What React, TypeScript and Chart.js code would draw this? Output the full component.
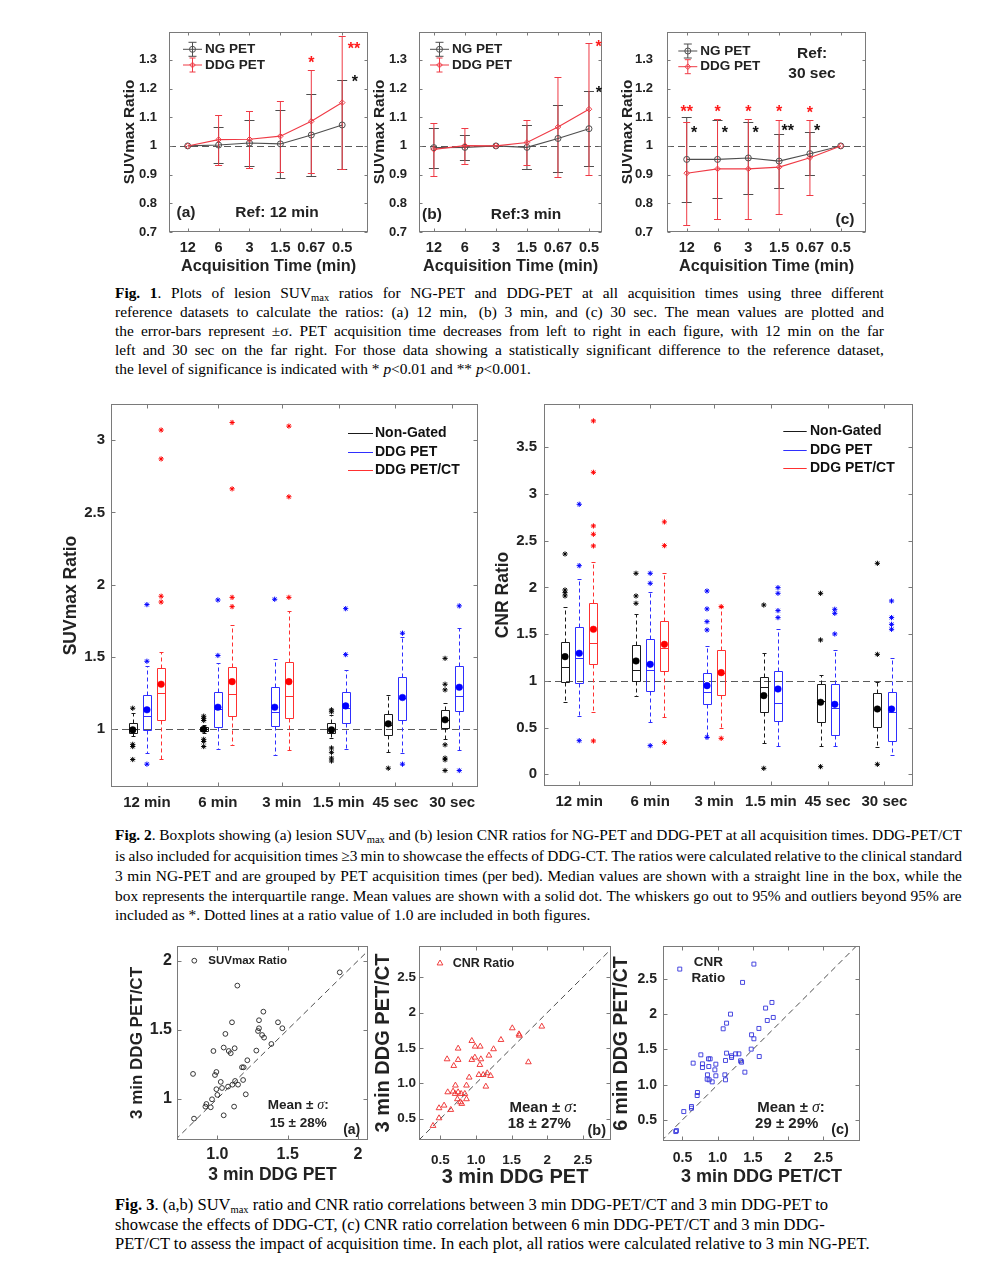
import React, { useEffect, useLayoutEffect, useRef } from 'react';
import { Chart, registerables } from 'chart.js';

Chart.register(...registerables);

const SANS = '"Liberation Sans", Arial, Helvetica, sans-serif';
const SERIF = '"Liberation Serif", "Times New Roman", Times, serif';
const INK = '#222222';
const FRAME = '#7a7a7a';
const NG_GRAY = '#4e4e4e';
const DDG_RED = '#ef3a45';

type Star = [number, number, string];
type TextItem = [string, number, number, number, CanvasTextAlign?];

/* ---------------- Figure 1: mean ± SD of lesion SUVmax ratios ---------------- */
const fig1TimeLabels = ['12', '6', '3', '1.5', '0.67', '0.5'];
const fig1TimeIdx = [0, 1, 2, 3, 4, 5];
const fig1YTicks = [0.7, 0.8, 0.9, 1, 1.1, 1.2, 1.3];

const ref12NgMean = [1.0, 1.003, 1.01, 1.007, 1.038, 1.073];
const ref12NgSd = [0, 0.062, 0.081, 0.118, 0.142, 0.155];
const ref12DdgMean = [1.0, 1.022, 1.023, 1.034, 1.086, 1.151];
const ref12DdgSd = [0, 0.087, 0.1, 0.124, 0.18, 0.232];
const ref12RedStars: Star[] = [[4, 1.302, '*'], [5.38, 1.351, '**']];
const ref12BlackStars: Star[] = [[5.41, 1.237, '*']];

const ref3NgMean = [0.994, 0.995, 1.0, 0.995, 1.026, 1.06];
const ref3NgSd = [0.07, 0.044, 0, 0.077, 0.117, 0.13];
const ref3DdgMean = [0.988, 1.001, 1.0, 1.012, 1.066, 1.128];
const ref3DdgSd = [0.093, 0.063, 0, 0.08, 0.175, 0.23];
const ref3RedStars: Star[] = [[5.31, 1.358, '*']];
const ref3BlackStars: Star[] = [[5.32, 1.199, '*']];

const ref30NgMean = [0.953, 0.953, 0.958, 0.947, 0.973, 1.0];
const ref30NgSd = [0.149, 0.136, 0.127, 0.095, 0.075, 0];
const ref30DdgMean = [0.905, 0.92, 0.92, 0.926, 0.959, 1.0];
const ref30DdgSd = [0.18, 0.173, 0.173, 0.165, 0.13, 0];
const ref30RedStars: Star[] = [[0, 1.133, '**'], [1, 1.133, '*'], [2, 1.133, '*'], [3, 1.133, '*'], [4, 1.127, '*']];
const ref30BlackStars: Star[] = [[0.24, 1.058, '*'], [1.24, 1.058, '*'], [2.24, 1.058, '*'], [3.28, 1.065, '**'], [4.23, 1.065, '*']];

/* ---------------- Figure 2: boxplots ---------------- */
const fig2Groups = ['12 min', '6 min', '3 min', '1.5 min', '45 sec', '30 sec'];
const groupTickPos = [1, 6, 10.5, 14.5, 18.5, 22.5];
const boxPosNg = [0, 5, null, 14, 18, 22];
const boxPosDdg = [1, 6, 10, 15, 19, 23];
const boxPosCt = [2, 7, 11, null, null, null];
const fig2aYTicks = [1, 1.5, 2, 2.5, 3];
const fig2bYTicks = [0, 0.5, 1, 1.5, 2, 2.5, 3, 3.5];

// [lower whisker, Q1, median, Q3, upper whisker, mean]
const suvNgStats = [
  [0.95, 0.977, 1.0, 1.046, 1.11, 0.995],
  [0.975, 0.99, 1.0, 1.012, 1.03, 1.0],
  null,
  [0.94, 0.977, 1.0, 1.041, 1.1, 0.995],
  [0.839, 0.961, 1.03, 1.104, 1.237, 1.037],
  [0.93, 1.007, 1.065, 1.134, 1.18, 1.065],
];
const suvNgOut = [[1.145, 0.895, 0.88, 0.79], [1.09, 1.075, 1.06, 0.93, 0.915, 0.88], [], [1.134, 1.12, 0.87, 0.84, 0.8, 0.78], [0.73], [1.49, 1.311, 1.272, 0.892, 0.8, 0.788, 0.714]];
const suvDdgStats = [
  [0.834, 0.995, 1.092, 1.235, 1.44, 1.134],
  [0.862, 1.012, 1.138, 1.26, 1.456, 1.152],
  [0.823, 1.023, 1.122, 1.29, 1.484, 1.152],
  [0.862, 1.046, 1.145, 1.26, 1.41, 1.161],
  [0.834, 1.065, 1.219, 1.359, 1.64, 1.219],
  [0.857, 1.127, 1.23, 1.44, 1.703, 1.29],
];
const suvDdgOut = [[1.47, 1.862, 0.758], [1.51, 1.894], [1.899], [1.516, 1.834], [1.664, 0.758], [1.853, 0.714]];
const suvCtStats = [
  [0.793, 1.065, 1.249, 1.426, 1.532, 1.311],
  [0.892, 1.094, 1.244, 1.433, 1.719, 1.329],
  [0.857, 1.078, 1.23, 1.468, 1.818, 1.329],
  null,
  null,
  null,
];
const suvCtOut = [[1.88, 1.92, 2.87, 3.07], [1.848, 1.912, 2.663, 3.122], [1.912, 2.608, 3.097], [], [], []];

const cnrNgStats = [
  [0.771, 0.992, 1.152, 1.413, 1.795, 1.259],
  [0.842, 0.999, 1.117, 1.384, 1.712, 1.213],
  null,
  [0.332, 0.671, 0.93, 1.038, 1.295, 0.842],
  [0.303, 0.564, 0.78, 0.967, 1.063, 0.771],
  [0.296, 0.503, 0.7, 0.867, 0.992, 0.699],
];
const cnrNgOut = [[1.973, 1.944, 1.909, 2.358], [1.83, 1.909, 2.151], [], [1.812, 0.064], [1.438, 1.937, 0.082], [1.284, 2.258, 0.107]];
const cnrDdgStats = [
  [0.624, 0.974, 1.249, 1.58, 2.087, 1.295],
  [0.557, 0.895, 1.12, 1.448, 1.948, 1.177],
  [0.396, 0.749, 0.878, 1.081, 1.374, 0.949],
  [0.303, 0.574, 0.76, 1.11, 1.556, 0.913],
  [0.303, 0.421, 0.706, 0.963, 1.331, 0.749],
  [0.207, 0.36, 0.671, 0.885, 1.249, 0.699],
];
const cnrDdgOut = [[2.233, 2.89, 0.36], [2.044, 2.151, 0.307], [1.545, 1.634, 1.77, 1.962, 0.396], [1.677, 1.752, 1.937, 1.998], [1.502, 1.723, 1.766], [1.552, 1.605, 1.677, 1.855]];
const cnrCtStats = [
  [0.671, 1.177, 1.402, 1.83, 2.269, 1.552],
  [0.617, 1.106, 1.356, 1.645, 2.158, 1.391],
  [0.492, 0.849, 1.081, 1.331, 1.795, 1.088],
  null,
  null,
  null,
];
const cnrCtOut = [[2.444, 2.569, 2.658, 3.232, 3.782, 0.357], [2.447, 2.701, 0.342], [1.795, 0.385], [], [], []];

/* ---------------- Figure 3: correlations ---------------- */
const suvCorrX = [1.87, 1.142, 1.327, 1.104, 1.296, 1.431, 1.057, 1.296, 1.462, 1.289, 1.318, 1.332, 1.384, 1.045, 1.123, 0.972, 1.081, 1.095, 1.277, 1.213, 1.175, 1.187, 0.827, 0.993, 0.983, 1.183, 1.024, 1.126, 1.147, 1.107, 1.076, 1.033, 0.993, 1.0, 1.202, 0.962, 0.922, 0.915, 0.953, 1.119, 1.045, 0.834];
const suvCorrY = [1.915, 1.819, 1.63, 1.553, 1.568, 1.553, 1.469, 1.51, 1.51, 1.49, 1.461, 1.442, 1.396, 1.37, 1.365, 1.345, 1.345, 1.329, 1.348, 1.278, 1.227, 1.227, 1.179, 1.193, 1.171, 1.135, 1.121, 1.128, 1.101, 1.101, 1.087, 1.077, 1.068, 1.027, 1.031, 0.995, 0.961, 0.942, 0.937, 0.942, 0.879, 0.855];
const cnrCorrX = [1.509, 1.603, 1.608, 1.923, 1.35, 0.941, 0.988, 1.059, 0.749, 1.246, 0.984, 1.068, 1.181, 1.054, 0.594, 0.749, 0.941, 0.688, 1.04, 1.101, 1.157, 1.204, 0.904, 0.866, 1.138, 0.711, 0.603, 0.707, 0.749, 0.791, 0.843, 0.739, 0.782, 0.866, 0.8, 1.735, 0.552, 0.481, 0.646, 0.481, 0.397, 0.678];
const cnrCorrY = [1.78, 1.695, 1.676, 1.804, 1.615, 1.601, 1.521, 1.521, 1.493, 1.484, 1.366, 1.342, 1.394, 1.262, 1.342, 1.333, 1.333, 1.248, 1.121, 1.121, 1.145, 1.107, 1.084, 0.971, 0.956, 0.971, 0.876, 0.853, 0.876, 0.853, 0.853, 0.778, 0.735, 0.778, 0.712, 1.3, 0.688, 0.651, 0.627, 0.509, 0.401, 0.886];
const cnr6X = [0.462, 1.514, 1.353, 1.77, 1.68, 1.182, 1.789, 1.704, 1.126, 1.078, 1.585, 1.481, 1.514, 1.476, 1.59, 0.761, 1.126, 1.301, 1.254, 1.197, 1.197, 0.87, 0.893, 1.111, 1.325, 1.339, 0.652, 0.784, 0.974, 0.874, 0.784, 0.96, 1.102, 0.974, 0.855, 0.851, 0.879, 0.922, 1.111, 1.386, 0.713, 0.709, 0.628, 0.628, 0.519, 0.415, 0.405];
const cnr6Y = [2.642, 2.713, 2.453, 2.168, 2.088, 2.002, 1.955, 1.912, 1.874, 1.794, 1.799, 1.709, 1.652, 1.505, 1.4, 1.424, 1.448, 1.438, 1.438, 1.41, 1.386, 1.367, 1.367, 1.344, 1.339, 1.32, 1.306, 1.296, 1.291, 1.258, 1.244, 1.211, 1.14, 1.126, 1.14, 1.078, 1.069, 1.04, 1.069, 1.178, 0.889, 0.846, 0.69, 0.666, 0.618, 0.348, 0.334];
const fig3aTicks = [1, 1.5, 2];
const fig3aXLabels = ['1.0', '1.5', '2'];
const fig3aYLabels = ['1', '1.5', '2'];
const fig3bcTicks = [0.5, 1, 1.5, 2, 2.5];
const fig3bcLabels = ['0.5', '1.0', '1.5', '2', '2.5'];

/* ---------------- Captions ---------------- */
const fig1Caption = [
  '<b>Fig.</b> <b>1</b>. Plots of lesion SUV<sub>max</sub> ratios for NG-PET and DDG-PET at all acquisition times using three different',
  'reference datasets to calculate the ratios: (a) 12 min,&nbsp; (b) 3 min, and (c) 30 sec. The mean values are plotted and',
  'the error-bars represent ±σ. PET acquisition time decreases from left to right in each figure, with 12 min on the far',
  'left and 30 sec on the far right. For those data showing a statistically significant difference to the reference dataset,',
  'the level of significance is indicated with * <i>p</i>&lt;0.01 and ** <i>p</i>&lt;0.001.',
];
const fig2Caption = [
  '<b>Fig.</b> <b>2</b>. Boxplots showing (a) lesion SUV<sub>max</sub> and (b) lesion CNR ratios for NG-PET and DDG-PET at all acquisition times. DDG-PET/CT',
  'is also included for acquisition times ≥3 min to showcase the effects of DDG-CT. The ratios were calculated relative to the clinical standard',
  '3 min NG-PET and are grouped by PET acquisition times (per bed). Median values are shown with a straight line in the box, while the',
  'box represents the interquartile range. Mean values are shown with a solid dot. The whiskers go out to 95% and outliers beyond 95% are',
  'included as *. Dotted lines at a ratio value of 1.0 are included in both figures.',
];
const fig3Caption = [
  '<b>Fig. 3</b>. (a,b) SUV<sub>max</sub> ratio and CNR ratio correlations between 3 min DDG-PET/CT and 3 min DDG-PET to',
  'showcase the effects of DDG-CT, (c) CNR ratio correlation between 6 min DDG-PET/CT and 3 min DDG-',
  'PET/CT to assess the impact of acquisition time. In each plot, all ratios were calculated relative to 3 min NG-PET.',
];

/* ---------------- Layout helpers ---------------- */
type Geo = {
  x: number; y: number; w: number; h: number;
  yTitleX: number; yTickRight: number; xTickY: number; xTitleY?: number;
  tick: number; yTick?: number; yTitle: number; xTitle?: number;
};
function makeLayout(g: Geo) {
  const t = 30;
  const r = 34;
  const l = Math.round(g.x - g.yTitleX + (g.yTitle * 1.2) / 2);
  const bottom = g.y + g.h;
  const b = Math.round(
    g.xTitleY != null ? g.xTitleY - bottom + ((g.xTitle || 14) * 1.2) / 2 : g.xTickY - bottom + (g.tick * 1.2) / 2 + 3
  );
  return {
    ...g, l, b, t, r,
    left: g.x - l, top: g.y - t, width: g.w + l + r, height: g.h + t + b,
    yTickPad: g.x - g.yTickRight,
    xTickPad: g.xTickY - bottom - (g.tick * 1.2) / 2,
  };
}
type Layout = ReturnType<typeof makeLayout>;

type AxisSpec = { min: number; max: number; ticks: number[]; labels: string[]; title?: string };

function baseOptions(L: Layout, sx: AxisSpec, sy: AxisSpec): any {
  const font = (size: number) => ({ family: SANS, size, weight: 'bold' as const, lineHeight: 1.2 });
  return {
    responsive: false,
    maintainAspectRatio: false,
    animation: false,
    devicePixelRatio: 1,
    events: [],
    layout: { padding: { left: 0, top: L.t, right: L.r, bottom: 0 } },
    plugins: { legend: { display: false }, tooltip: { enabled: false } },
    scales: {
      x: {
        type: 'linear', position: 'bottom', bounds: 'data', min: sx.min, max: sx.max,
        grid: { display: false, drawTicks: false }, border: { display: false },
        afterBuildTicks: (s: any) => { s.ticks = sx.ticks.map((v) => ({ value: v })); },
        afterFit: (s: any) => { s.height = L.b; },
        ticks: {
          autoSkip: false, maxRotation: 0, minRotation: 0, padding: L.xTickPad, color: INK,
          font: font(L.tick), callback: (_v: any, i: number) => sx.labels[i],
        },
        title: { display: !!sx.title, text: sx.title || '', padding: 0, color: INK, font: font(L.xTitle || 14) },
      },
      y: {
        type: 'linear', position: 'left', bounds: 'data', min: sy.min, max: sy.max,
        grid: { display: false, drawTicks: false }, border: { display: false },
        afterBuildTicks: (s: any) => { s.ticks = sy.ticks.map((v) => ({ value: v })); },
        afterFit: (s: any) => { s.width = L.l; },
        ticks: {
          autoSkip: false, padding: L.yTickPad, color: INK,
          font: font(L.yTick || L.tick), callback: (_v: any, i: number) => sy.labels[i],
        },
        title: { display: !!sy.title, text: sy.title || '', padding: 0, color: INK, font: font(L.yTitle) },
      },
    },
  };
}

function framePlugin(xTicks: number[], yTicks: number[], tick = 4): any {
  return {
    id: 'frame',
    afterDatasetsDraw(chart: any) {
      const { ctx, chartArea: a, scales } = chart;
      const l = Math.round(a.left) + 0.5;
      const r = Math.round(a.right) - 0.5;
      const t = Math.round(a.top) + 0.5;
      const b = Math.round(a.bottom) - 0.5;
      ctx.save();
      ctx.strokeStyle = FRAME;
      ctx.lineWidth = 1;
      ctx.setLineDash([]);
      ctx.strokeRect(l, t, r - l, b - t);
      ctx.beginPath();
      xTicks.forEach((v) => {
        const px = Math.round(scales.x.getPixelForValue(v)) + 0.5;
        ctx.moveTo(px, b); ctx.lineTo(px, b - tick);
        ctx.moveTo(px, t); ctx.lineTo(px, t + tick);
      });
      yTicks.forEach((v) => {
        const py = Math.round(scales.y.getPixelForValue(v)) + 0.5;
        ctx.moveTo(l, py); ctx.lineTo(l + tick, py);
        ctx.moveTo(r, py); ctx.lineTo(r - tick, py);
      });
      ctx.stroke();
      ctx.restore();
    },
  };
}

function refLinePlugin(value: number): any {
  return {
    id: 'refline',
    beforeDatasetsDraw(chart: any) {
      const { ctx, chartArea: a, scales } = chart;
      const py = Math.round(scales.y.getPixelForValue(value)) + 0.5;
      ctx.save();
      ctx.strokeStyle = '#5a5a5a';
      ctx.lineWidth = 1.2;
      ctx.setLineDash([7, 4]);
      ctx.beginPath();
      ctx.moveTo(a.left, py);
      ctx.lineTo(a.right, py);
      ctx.stroke();
      ctx.restore();
    },
  };
}

function drawRich(ctx: CanvasRenderingContext2D, s: string, x: number, y: number, size: number, align: CanvasTextAlign, color = INK) {
  const parts: [string, string][] = [];
  s.split(/(σ)/).forEach((p) => {
    if (!p) return;
    parts.push([p, p === 'σ' ? `italic ${size * 1.05}px ${SERIF}` : `bold ${size}px ${SANS}`]);
  });
  let total = 0;
  parts.forEach(([t, f]) => { ctx.font = f; total += ctx.measureText(t).width; });
  let cx = align === 'center' ? x - total / 2 : align === 'right' ? x - total : x;
  ctx.fillStyle = color;
  ctx.textAlign = 'left';
  ctx.textBaseline = 'middle';
  parts.forEach(([t, f]) => { ctx.font = f; ctx.fillText(t, cx, y); cx += ctx.measureText(t).width; });
}

function textPlugin(L: Layout, items: TextItem[], extra?: (ctx: CanvasRenderingContext2D) => void): any {
  return {
    id: 'texts',
    afterDraw(chart: any) {
      const ctx = chart.ctx as CanvasRenderingContext2D;
      ctx.save();
      items.forEach(([s, x, y, size, align]) => drawRich(ctx, s, x - L.left, y - L.top, size, align || 'center'));
      if (extra) extra(ctx);
      ctx.restore();
    },
  };
}

/* ---------------- Figure 1 ---------------- */
type Fig1Panel = {
  geo: Geo; xMin: number; xMax: number;
  ngMean: number[]; ngSd: number[]; ddgMean: number[]; ddgSd: number[];
  redStars: Star[]; blackStars: Star[]; texts: TextItem[];
  legendX: number; legendY: [number, number];
};

const F1_TICK = 14.5;
const F1_YTICK = 13;
const F1_XT = 16.3;
const F1_YT = 15.3;

const fig1Panels: Fig1Panel[] = [
  {
    geo: { x: 169, y: 32, w: 199, h: 200, yTitleX: 130, yTickRight: 157, xTickY: 248, xTitleY: 266, tick: F1_TICK, yTick: F1_YTICK, yTitle: F1_YT, xTitle: F1_XT },
    xMin: -0.605, xMax: 5.835,
    ngMean: ref12NgMean, ngSd: ref12NgSd, ddgMean: ref12DdgMean, ddgSd: ref12DdgSd,
    redStars: ref12RedStars, blackStars: ref12BlackStars,
    texts: [['(a)', 186, 213, 15.5], ['Ref: 12 min', 277, 213, 15.5]],
    legendX: 183, legendY: [49.3, 65],
  },
  {
    geo: { x: 419, y: 32, w: 183, h: 200, yTitleX: 380, yTickRight: 407, xTickY: 248, xTitleY: 266, tick: F1_TICK, yTick: F1_YTICK, yTitle: F1_YT, xTitle: F1_XT },
    xMin: -0.48, xMax: 5.42,
    ngMean: ref3NgMean, ngSd: ref3NgSd, ddgMean: ref3DdgMean, ddgSd: ref3DdgSd,
    redStars: ref3RedStars, blackStars: ref3BlackStars,
    texts: [['(b)', 432, 215, 15.5], ['Ref:3 min', 526, 215, 15.5]],
    legendX: 430, legendY: [49.3, 65],
  },
  {
    geo: { x: 667, y: 32, w: 199, h: 200, yTitleX: 628, yTickRight: 653, xTickY: 248, xTitleY: 266, tick: F1_TICK, yTick: F1_YTICK, yTitle: F1_YT, xTitle: F1_XT },
    xMin: -0.64, xMax: 5.82,
    ngMean: ref30NgMean, ngSd: ref30NgSd, ddgMean: ref30DdgMean, ddgSd: ref30DdgSd,
    redStars: ref30RedStars, blackStars: ref30BlackStars,
    texts: [['(c)', 845, 220, 15.5], ['Ref:', 812, 53.3, 15.5], ['30 sec', 812, 73.3, 15.5]],
    legendX: 678.3, legendY: [51, 66.7],
  },
];

function drawDiamond(ctx: CanvasRenderingContext2D, x: number, y: number, r: number) {
  ctx.beginPath();
  ctx.moveTo(x, y - r); ctx.lineTo(x + r, y); ctx.lineTo(x, y + r); ctx.lineTo(x - r, y); ctx.closePath();
  ctx.stroke();
}
function drawCircle(ctx: CanvasRenderingContext2D, x: number, y: number, r: number) {
  ctx.beginPath();
  ctx.arc(x, y, r, 0, Math.PI * 2);
  ctx.stroke();
}

function fig1Config(p: Fig1Panel, L: Layout): any {
  const pts = (m: number[]) => m.map((v, i) => ({ x: fig1TimeIdx[i], y: v }));
  const bars = [
    { mean: p.ngMean, sd: p.ngSd, color: NG_GRAY, cap: 5 },
    { mean: p.ddgMean, sd: p.ddgSd, color: DDG_RED, cap: 3.5 },
  ];
  const errPlugin = {
    id: 'errbars',
    beforeDatasetsDraw(chart: any) {
      const { ctx, scales } = chart;
      ctx.save();
      ctx.lineWidth = 1;
      ctx.setLineDash([]);
      bars.forEach((s) => {
        ctx.strokeStyle = s.color;
        ctx.beginPath();
        s.mean.forEach((m, i) => {
          if (!s.sd[i]) return;
          const px = scales.x.getPixelForValue(fig1TimeIdx[i]);
          const top = Math.round(scales.y.getPixelForValue(m + s.sd[i])) + 0.5;
          const bot = Math.round(scales.y.getPixelForValue(m - s.sd[i])) + 0.5;
          ctx.moveTo(px, top); ctx.lineTo(px, bot);
          ctx.moveTo(px - s.cap, top); ctx.lineTo(px + s.cap, top);
          ctx.moveTo(px - s.cap, bot); ctx.lineTo(px + s.cap, bot);
        });
        ctx.stroke();
      });
      ctx.restore();
    },
  };
  const starPlugin = {
    id: 'stars',
    afterDatasetsDraw(chart: any) {
      const { ctx, scales } = chart;
      ctx.save();
      const size = 16;
      ctx.font = `bold ${size}px ${SANS}`;
      ctx.textAlign = 'center';
      ctx.textBaseline = 'alphabetic';
      const draw = (list: Star[], color: string) => {
        ctx.fillStyle = color;
        list.forEach(([xi, yv, s]) => {
          ctx.fillText(s, scales.x.getPixelForValue(xi), scales.y.getPixelForValue(yv) + size * 0.56);
        });
      };
      draw(p.redStars, '#ff1a1a');
      draw(p.blackStars, '#111111');
      ctx.restore();
    },
  };
  const legend = (ctx: CanvasRenderingContext2D) => {
    const items: [number, string, string, number][] = [
      [p.legendY[0], NG_GRAY, 'NG PET', 4],
      [p.legendY[1], DDG_RED, 'DDG PET', 3],
    ];
    items.forEach(([yy, color, label, cap], k) => {
      const x0 = p.legendX - L.left;
      const y = yy - L.top;
      const cx = x0 + 9.5;
      ctx.strokeStyle = color;
      ctx.lineWidth = 1;
      ctx.setLineDash([]);
      ctx.beginPath();
      ctx.moveTo(x0, y); ctx.lineTo(x0 + 19, y);
      ctx.moveTo(cx, y - 7); ctx.lineTo(cx, y + 7);
      ctx.moveTo(cx - cap, y - 7); ctx.lineTo(cx + cap, y - 7);
      ctx.moveTo(cx - cap, y + 7); ctx.lineTo(cx + cap, y + 7);
      ctx.stroke();
      if (k === 0) drawCircle(ctx, cx, y, 3); else drawDiamond(ctx, cx, y, 2.8);
      ctx.font = `bold 13.5px ${SANS}`;
      ctx.fillStyle = INK;
      ctx.textAlign = 'left';
      ctx.textBaseline = 'middle';
      ctx.fillText(label, x0 + 22, y);
    });
  };
  return {
    type: 'line',
    data: {
      datasets: [
        {
          label: 'DDG PET', data: pts(p.ddgMean), borderColor: DDG_RED, borderWidth: 1.1, tension: 0,
          pointStyle: 'rectRot', pointRadius: 2.8, pointBorderColor: DDG_RED,
          pointBackgroundColor: 'rgba(255,255,255,0)', pointBorderWidth: 1,
        },
        {
          label: 'NG PET', data: pts(p.ngMean), borderColor: NG_GRAY, borderWidth: 1.1, tension: 0,
          pointStyle: 'circle', pointRadius: 3, pointBorderColor: NG_GRAY,
          pointBackgroundColor: 'rgba(255,255,255,0)', pointBorderWidth: 1,
        },
      ],
    },
    options: baseOptions(
      L,
      { min: p.xMin, max: p.xMax, ticks: fig1TimeIdx, labels: fig1TimeLabels, title: 'Acquisition Time (min)' },
      { min: 0.7, max: 1.397, ticks: fig1YTicks, labels: fig1YTicks.map(String), title: 'SUVmax Ratio' }
    ),
    plugins: [refLinePlugin(1), errPlugin, framePlugin(fig1TimeIdx, fig1YTicks, 3), starPlugin, textPlugin(L, p.texts, legend)],
  };
}

/* ---------------- Figure 2 ---------------- */
type BoxSeries = { name: string; pos: (number | null)[]; stats: (number[] | null)[]; out: number[][]; line: string; dot: string };
type Fig2Panel = {
  geo: Geo; xr: [number, number]; yr: [number, number]; yTicks: number[]; yTitle: string;
  series: BoxSeries[]; legend: { x0: number; x1: number; tx: number; ys: number[] };
};

const fig2Panels: Fig2Panel[] = [
  {
    geo: { x: 111, y: 404, w: 367, h: 383, yTitleX: 72, yTickRight: 105, xTickY: 803, tick: 15, yTitle: 17.5 },
    xr: [-1.53, 24.32], yr: [0.6, 3.25], yTicks: fig2aYTicks, yTitle: 'SUVmax Ratio',
    series: [
      { name: 'Non-Gated', pos: boxPosNg, stats: suvNgStats, out: suvNgOut, line: '#1a1a1a', dot: '#000000' },
      { name: 'DDG PET', pos: boxPosDdg, stats: suvDdgStats, out: suvDdgOut, line: '#2f2fff', dot: '#0000ff' },
      { name: 'DDG PET/CT', pos: boxPosCt, stats: suvCtStats, out: suvCtOut, line: '#ff3030', dot: '#ff0000' },
    ],
    legend: { x0: 348, x1: 373, tx: 375, ys: [433.3, 452.3, 470] },
  },
  {
    geo: { x: 544, y: 404, w: 369, h: 382, yTitleX: 504, yTickRight: 537, xTickY: 802, tick: 15, yTitle: 17.5 },
    xr: [-1.48, 24.51], yr: [-0.125, 3.963], yTicks: fig2bYTicks, yTitle: 'CNR Ratio',
    series: [
      { name: 'Non-Gated', pos: boxPosNg, stats: cnrNgStats, out: cnrNgOut, line: '#1a1a1a', dot: '#000000' },
      { name: 'DDG PET', pos: boxPosDdg, stats: cnrDdgStats, out: cnrDdgOut, line: '#2f2fff', dot: '#0000ff' },
      { name: 'DDG PET/CT', pos: boxPosCt, stats: cnrCtStats, out: cnrCtOut, line: '#ff3030', dot: '#ff0000' },
    ],
    legend: { x0: 783.3, x1: 806.7, tx: 810, ys: [431, 450, 468.3] },
  },
];

function fig2Config(p: Fig2Panel, L: Layout): any {
  const datasets: any[] = [];
  p.series.forEach((s) => {
    const means: any[] = [];
    const outs: any[] = [];
    s.stats.forEach((st, i) => {
      const pos = s.pos[i];
      if (pos == null) return;
      if (st) means.push({ x: pos, y: st[5] });
      (s.out[i] || []).forEach((v) => outs.push({ x: pos, y: v }));
    });
    datasets.push({
      label: s.name + ' outliers', data: outs, pointStyle: 'star', pointRadius: 2.6,
      borderColor: s.dot, backgroundColor: s.dot, pointBorderColor: s.dot, pointBorderWidth: 1,
    });
    datasets.push({
      label: s.name + ' mean', data: means, pointStyle: 'circle', pointRadius: 3.3,
      borderColor: s.dot, backgroundColor: s.dot, pointBorderColor: s.dot, pointBackgroundColor: s.dot, pointBorderWidth: 0.5,
    });
  });
  const boxPlugin = {
    id: 'boxes',
    beforeDatasetsDraw(chart: any) {
      const { ctx, scales } = chart;
      const Y = (v: number) => Math.round(scales.y.getPixelForValue(v)) + 0.5;
      ctx.save();
      ctx.lineWidth = 1;
      p.series.forEach((s) => {
        ctx.strokeStyle = s.line;
        s.stats.forEach((st, i) => {
          const pos = s.pos[i];
          if (!st || pos == null) return;
          const [lo, q1, med, q3, hi] = st;
          const cx = Math.round(scales.x.getPixelForValue(pos)) + 0.5;
          const hw = 4;
          ctx.setLineDash([]);
          ctx.beginPath();
          ctx.rect(cx - hw, Y(q3), 2 * hw, Y(q1) - Y(q3));
          ctx.moveTo(cx - hw, Y(med)); ctx.lineTo(cx + hw, Y(med));
          ctx.moveTo(cx - 2, Y(hi)); ctx.lineTo(cx + 2, Y(hi));
          ctx.moveTo(cx - 2, Y(lo)); ctx.lineTo(cx + 2, Y(lo));
          ctx.stroke();
          ctx.setLineDash([4, 3]);
          ctx.beginPath();
          ctx.moveTo(cx, Y(q3)); ctx.lineTo(cx, Y(hi));
          ctx.moveTo(cx, Y(q1)); ctx.lineTo(cx, Y(lo));
          ctx.stroke();
        });
      });
      ctx.restore();
    },
  };
  const legend = (ctx: CanvasRenderingContext2D) => {
    p.series.forEach((s, k) => {
      const y = p.legend.ys[k] - L.top;
      ctx.strokeStyle = s.line;
      ctx.lineWidth = 1;
      ctx.setLineDash([]);
      ctx.beginPath();
      ctx.moveTo(p.legend.x0 - L.left, Math.round(y) + 0.5);
      ctx.lineTo(p.legend.x1 - L.left, Math.round(y) + 0.5);
      ctx.stroke();
      ctx.font = `bold 14px ${SANS}`;
      ctx.fillStyle = '#111';
      ctx.textAlign = 'left';
      ctx.textBaseline = 'middle';
      ctx.fillText(s.name, p.legend.tx - L.left, y);
    });
  };
  return {
    type: 'scatter',
    data: { datasets },
    options: baseOptions(
      L,
      { min: p.xr[0], max: p.xr[1], ticks: groupTickPos, labels: fig2Groups },
      { min: p.yr[0], max: p.yr[1], ticks: p.yTicks, labels: p.yTicks.map(String), title: p.yTitle }
    ),
    plugins: [refLinePlugin(1), boxPlugin, framePlugin(groupTickPos, p.yTicks, 4), textPlugin(L, [], legend)],
  };
}

/* ---------------- Figure 3 ---------------- */
type Fig3Panel = {
  geo: Geo; xs: number[]; ys: number[]; xr: [number, number]; yr: [number, number];
  xTicks: number[]; xLabels: string[]; yTicks: number[]; yLabels: string[];
  xTitle: string; yTitle: string; marker: string; color: string; radius: number;
  texts: TextItem[]; legendMarker?: [number, number];
};

const fig3Panels: Fig3Panel[] = [
  {
    geo: { x: 177, y: 946, w: 191, h: 194, yTitleX: 137, yTickRight: 172, xTickY: 1155, xTitleY: 1175, tick: 16, yTitle: 17, xTitle: 17.5 },
    xs: suvCorrX, ys: suvCorrY, xr: [0.713, 2.071], yr: [0.7, 2.106],
    xTicks: fig3aTicks, xLabels: fig3aXLabels, yTicks: fig3aTicks, yLabels: fig3aYLabels,
    xTitle: '3 min DDG PET', yTitle: '3 min DDG PET/CT', marker: 'circle', color: '#222222', radius: 2.4,
    texts: [['SUVmax Ratio', 208.3, 960.7, 11.5, 'left'], ['Mean ± σ:', 298.3, 1105.7, 13.5], ['15 ± 28%', 298.3, 1123.3, 13.5], ['(a)', 351.7, 1130, 14]],
    legendMarker: [194.3, 960.7],
  },
  {
    geo: { x: 419, y: 946, w: 192, h: 194, yTitleX: 383, yTickRight: 416, xTickY: 1160, xTitleY: 1177, tick: 13.5, yTitle: 20, xTitle: 20 },
    xs: cnrCorrX, ys: cnrCorrY, xr: [0.2, 2.894], yr: [0.2, 2.94],
    xTicks: fig3bcTicks, xLabels: fig3bcLabels, yTicks: fig3bcTicks, yLabels: fig3bcLabels,
    xTitle: '3 min DDG PET', yTitle: '3 min DDG PET/CT', marker: 'triangle', color: '#ee2a2a', radius: 3.3,
    texts: [['CNR Ratio', 452.7, 963.3, 12.5, 'left'], ['Mean ± σ:', 543.3, 1108.3, 15], ['18 ± 27%', 539.3, 1124.3, 15], ['(b)', 596.7, 1130.7, 14.5]],
    legendMarker: [440, 963.3],
  },
  {
    geo: { x: 663, y: 946, w: 197, h: 195, yTitleX: 622, yTickRight: 657, xTickY: 1158, xTitleY: 1177, tick: 14, yTitle: 19.5, xTitle: 18 },
    xs: cnr6X, ys: cnr6Y, xr: [0.224, 3.02], yr: [0.2, 2.97],
    xTicks: fig3bcTicks, xLabels: fig3bcLabels, yTicks: fig3bcTicks, yLabels: fig3bcLabels,
    xTitle: '3 min DDG PET/CT', yTitle: '6 min DDG PET/CT', marker: 'rect', color: '#3434dd', radius: 2.8,
    texts: [['CNR', 708.3, 962.7, 13.5], ['Ratio', 708.3, 978.3, 13.5], ['Mean ± σ:', 791, 1107.7, 15], ['29 ± 29%', 786.7, 1124.3, 15], ['(c)', 840, 1130, 14.5]],
  },
];

function fig3Config(p: Fig3Panel, L: Layout): any {
  const diag = {
    id: 'diag',
    beforeDatasetsDraw(chart: any) {
      const { ctx, chartArea: a, scales } = chart;
      const lo = Math.min(p.xr[0], p.yr[0]);
      const hi = Math.max(p.xr[1], p.yr[1]);
      ctx.save();
      ctx.beginPath();
      ctx.rect(a.left, a.top, a.right - a.left, a.bottom - a.top);
      ctx.clip();
      ctx.strokeStyle = '#3a3a3a';
      ctx.lineWidth = 0.9;
      ctx.setLineDash([6, 4]);
      ctx.beginPath();
      ctx.moveTo(scales.x.getPixelForValue(lo), scales.y.getPixelForValue(lo));
      ctx.lineTo(scales.x.getPixelForValue(hi), scales.y.getPixelForValue(hi));
      ctx.stroke();
      ctx.restore();
    },
  };
  const marker = (ctx: CanvasRenderingContext2D) => {
    if (!p.legendMarker) return;
    const x = p.legendMarker[0] - L.left;
    const y = p.legendMarker[1] - L.top;
    ctx.strokeStyle = p.color;
    ctx.lineWidth = 0.9;
    ctx.setLineDash([]);
    if (p.marker === 'circle') drawCircle(ctx, x, y, p.radius);
    else {
      const r = p.radius;
      ctx.beginPath();
      ctx.moveTo(x, y - r);
      ctx.lineTo(x + r * 0.87, y + r * 0.5);
      ctx.lineTo(x - r * 0.87, y + r * 0.5);
      ctx.closePath();
      ctx.stroke();
    }
  };
  return {
    type: 'scatter',
    data: {
      datasets: [
        {
          label: 'ratio', data: p.xs.map((v, i) => ({ x: v, y: p.ys[i] })),
          pointStyle: p.marker, pointRadius: p.radius, borderColor: p.color, backgroundColor: 'rgba(255,255,255,0)',
          pointBorderColor: p.color, pointBackgroundColor: 'rgba(255,255,255,0)', pointBorderWidth: 0.9,
        },
      ],
    },
    options: baseOptions(
      L,
      { min: p.xr[0], max: p.xr[1], ticks: p.xTicks, labels: p.xLabels, title: p.xTitle },
      { min: p.yr[0], max: p.yr[1], ticks: p.yTicks, labels: p.yLabels, title: p.yTitle }
    ),
    plugins: [diag, framePlugin(p.xTicks, p.yTicks, 4), textPlugin(L, p.texts, marker)],
  };
}

/* ---------------- React components ---------------- */
function ChartCanvas({ layout, build }: { layout: Layout; build: (L: Layout) => any }) {
  const ref = useRef<HTMLCanvasElement | null>(null);
  useEffect(() => {
    if (!ref.current) return undefined;
    const chart = new Chart(ref.current, build(layout));
    return () => chart.destroy();
  }, []);
  return (
    <canvas
      ref={ref}
      width={layout.width}
      height={layout.height}
      style={{ position: 'absolute', left: layout.left, top: layout.top, width: layout.width, height: layout.height }}
    />
  );
}

function JustifiedLine({ html, style, width }: { html: string; style: React.CSSProperties; width: number }) {
  const ref = useRef<HTMLDivElement | null>(null);
  useLayoutEffect(() => {
    const el = ref.current;
    if (!el) return;
    let sum = 0;
    el.childNodes.forEach((c) => { sum += (c as HTMLElement).getBoundingClientRect().width; });
    const need = sum + (el.childNodes.length - 1) * 3;
    if (need > width) {
      const k = width / need;
      el.style.width = `${width / k}px`;
      el.style.transform = `scaleX(${k})`;
    }
  }, []);
  const words = html.split(/\s+/).filter(Boolean);
  return (
    <div ref={ref} className="cap" style={{ ...style, width, display: 'flex', justifyContent: 'space-between', alignItems: 'baseline' }}>
      {words.map((w, k) => <span key={k} dangerouslySetInnerHTML={{ __html: w }} />)}
    </div>
  );
}

function Caption({ lines, left, width, centers, justify, size = 15 }: {
  lines: string[]; left: number; width: number; centers: number[]; justify: boolean; size?: number;
}) {
  return (
    <>
      {lines.map((html, i) => {
        const style: React.CSSProperties = {
          position: 'absolute', left, top: centers[i] - 10, height: 20, lineHeight: '20px',
          fontFamily: SERIF, fontSize: size, color: '#000', whiteSpace: 'nowrap', transformOrigin: '0 0',
        };
        if (justify && i < lines.length - 1) {
          return <JustifiedLine key={i} html={html} style={style} width={width} />;
        }
        return <div key={i} className="cap" style={style} dangerouslySetInnerHTML={{ __html: html }} />;
      })}
    </>
  );
}

export default function App() {
  return (
    <div style={{ position: 'absolute', left: 0, top: 0, width: 989, height: 1280, background: '#ffffff', overflow: 'hidden' }}>
      <style>{'.cap sub{font-size:10.5px;vertical-align:-3px;line-height:0}'}</style>
      {fig1Panels.map((p, i) => (
        <ChartCanvas key={'f1' + i} layout={makeLayout(p.geo)} build={(L) => fig1Config(p, L)} />
      ))}
      <Caption lines={fig1Caption} left={115} width={769} centers={[293, 312, 331, 350, 369]} justify size={15.4} />
      {fig2Panels.map((p, i) => (
        <ChartCanvas key={'f2' + i} layout={makeLayout(p.geo)} build={(L) => fig2Config(p, L)} />
      ))}
      <Caption lines={fig2Caption} left={115} width={847} centers={[835, 856, 876, 896, 915]} justify size={15.4} />
      {fig3Panels.map((p, i) => (
        <ChartCanvas key={'f3' + i} layout={makeLayout(p.geo)} build={(L) => fig3Config(p, L)} />
      ))}
      <Caption lines={fig3Caption} left={115} width={800} centers={[1205, 1224.5, 1244]} justify={false} size={16.5} />
    </div>
  );
}
